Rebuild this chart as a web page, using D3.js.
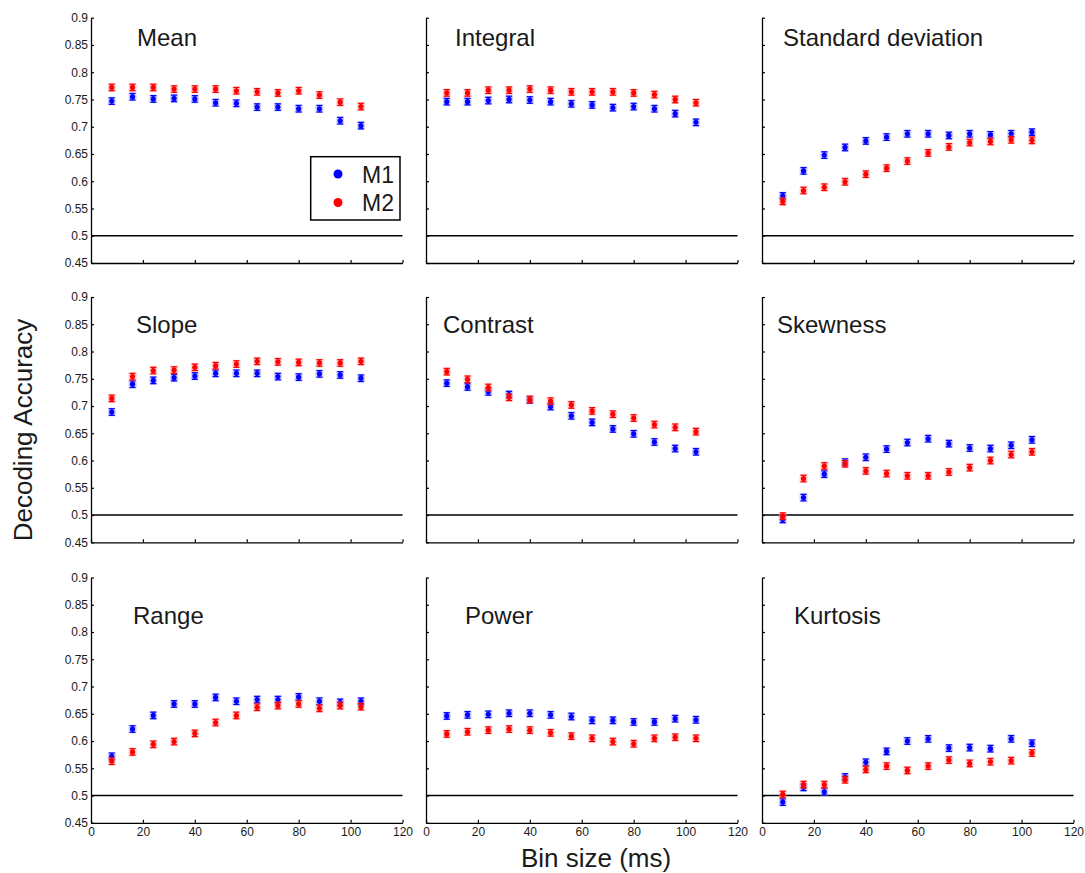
<!DOCTYPE html>
<html>
<head>
<meta charset="utf-8">
<script src="https://cdn.jsdelivr.net/npm/d3@7"></script>
<style>
  html, body { margin: 0; padding: 0; background: #fff; }
  svg { display: block; }
  text { font-family: "Liberation Sans", Arial, Helvetica, sans-serif; fill: #1a1a1a; }
</style>
</head>
<body>
<svg id="chart" width="1085" height="873"></svg>
<script>
// ---------------- data ----------------
const binSizes = [8, 16, 24, 32, 40, 48, 56, 64, 72, 80, 88, 96, 104];
const panelTitles = ["Mean", "Integral", "Standard deviation", "Slope", "Contrast", "Skewness", "Range", "Power", "Kurtosis"];
const seriesNames = ["M1", "M2"];
const yTicks = [0.45, 0.5, 0.55, 0.6, 0.65, 0.7, 0.75, 0.8, 0.85, 0.9];
const yTickLabels = ["0.45", "0.5", "0.55", "0.6", "0.65", "0.7", "0.75", "0.8", "0.85", "0.9"];
const xTicks = [0, 20, 40, 60, 80, 100, 120];
const xTickLabels = ["0", "20", "40", "60", "80", "100", "120"];
const chanceLevel = 0.5;
const errorHalf = 0.006;

const meanM1 = [0.747, 0.755, 0.751, 0.752, 0.751, 0.744, 0.743, 0.736, 0.736, 0.733, 0.733, 0.711, 0.702];
const meanM2 = [0.772, 0.772, 0.772, 0.769, 0.769, 0.769, 0.766, 0.764, 0.762, 0.766, 0.758, 0.745, 0.737];
const integralM1 = [0.746, 0.746, 0.748, 0.750, 0.749, 0.746, 0.742, 0.740, 0.735, 0.737, 0.733, 0.724, 0.708];
const integralM2 = [0.762, 0.762, 0.767, 0.767, 0.769, 0.767, 0.764, 0.764, 0.764, 0.762, 0.759, 0.750, 0.744];
const stdM1 = [0.573, 0.619, 0.648, 0.662, 0.674, 0.681, 0.687, 0.687, 0.684, 0.687, 0.685, 0.687, 0.690];
const stdM2 = [0.563, 0.583, 0.589, 0.599, 0.613, 0.624, 0.637, 0.652, 0.663, 0.671, 0.673, 0.676, 0.675];
const slopeM1 = [0.689, 0.740, 0.747, 0.752, 0.755, 0.760, 0.760, 0.760, 0.754, 0.753, 0.759, 0.757, 0.751];
const slopeM2 = [0.714, 0.754, 0.765, 0.766, 0.771, 0.774, 0.777, 0.782, 0.781, 0.780, 0.779, 0.779, 0.782];
const contrastM1 = [0.742, 0.735, 0.726, 0.721, 0.711, 0.699, 0.682, 0.670, 0.658, 0.649, 0.634, 0.622, 0.616];
const contrastM2 = [0.763, 0.749, 0.734, 0.716, 0.712, 0.709, 0.702, 0.691, 0.685, 0.678, 0.666, 0.661, 0.653];
const skewM1 = [0.492, 0.532, 0.575, 0.597, 0.606, 0.621, 0.633, 0.640, 0.631, 0.623, 0.622, 0.628, 0.638];
const skewM2 = [0.498, 0.567, 0.590, 0.594, 0.581, 0.576, 0.572, 0.572, 0.579, 0.587, 0.600, 0.611, 0.616];
const rangeM1 = [0.572, 0.622, 0.647, 0.668, 0.668, 0.680, 0.673, 0.676, 0.676, 0.681, 0.673, 0.671, 0.673];
const rangeM2 = [0.563, 0.580, 0.594, 0.599, 0.614, 0.634, 0.647, 0.662, 0.665, 0.668, 0.660, 0.665, 0.663];
const powerM1 = [0.646, 0.648, 0.649, 0.651, 0.651, 0.648, 0.645, 0.638, 0.638, 0.635, 0.635, 0.641, 0.639];
const powerM2 = [0.613, 0.617, 0.620, 0.622, 0.620, 0.615, 0.609, 0.605, 0.599, 0.595, 0.605, 0.607, 0.605];
const kurtM1 = [0.488, 0.515, 0.507, 0.534, 0.561, 0.581, 0.600, 0.604, 0.587, 0.588, 0.586, 0.604, 0.596];
const kurtM2 = [0.502, 0.520, 0.520, 0.529, 0.548, 0.554, 0.546, 0.554, 0.565, 0.559, 0.562, 0.564, 0.578];

const panelSeries = [
  [meanM1, meanM2], [integralM1, integralM2], [stdM1, stdM2],
  [slopeM1, slopeM2], [contrastM1, contrastM2], [skewM1, skewM2],
  [rangeM1, rangeM2], [powerM1, powerM2], [kurtM1, kurtM2]
];

// ---------------- layout ----------------
const colors = ["#0000ff", "#ff0000"];
const haloColors = ["#9a9aff", "#ff9a9a"];
const colLeft = [91, 426, 762];
const rowTop = [17.7, 297, 577.5];
const pw = 311.5, ph = 245.3;
const titleDx = [46, 29, 21, 45, 17, 15, 42, 39, 32];
const titleDy = [28.5, 28.5, 28.5, 36, 36, 36, 46.5, 46.5, 46.5];

const svg = d3.select("#chart");

const x = d3.scaleLinear().domain([0, 120]).range([0, pw]);
const y = d3.scaleLinear().domain([0.45, 0.9]).range([ph, 0]);

panelTitles.forEach((title, i) => {
  const r = Math.floor(i / 3), c = i % 3;
  const g = svg.append("g").attr("transform", `translate(${colLeft[c]},${rowTop[r]})`);

  // x axis
  const xAxis = d3.axisBottom(x).tickValues(xTicks).tickSizeInner(-3).tickSizeOuter(0)
    .tickFormat((d, k) => r === 2 ? xTickLabels[k] : "");
  const gx = g.append("g").attr("transform", `translate(0,${ph})`).call(xAxis);
  gx.select(".domain").attr("stroke", "#000").attr("stroke-width", 1.3);
  gx.selectAll(".tick line").attr("stroke", "#000").attr("stroke-width", 1.2);
  gx.selectAll(".tick text").attr("y", 5).attr("dy", "0.71em")
    .style("font-size", "12px").attr("fill", "#1a1a1a");

  // y axis
  const yAxis = d3.axisLeft(y).tickValues(yTicks).tickSizeInner(-3).tickSizeOuter(0)
    .tickFormat((d, k) => c === 0 ? yTickLabels[k] : "");
  const gy = g.append("g").call(yAxis);
  gy.select(".domain").attr("stroke", "#000").attr("stroke-width", 1.3);
  gy.selectAll(".tick line").attr("stroke", "#000").attr("stroke-width", 1.2);
  gy.selectAll(".tick text").attr("x", -3).style("font-size", "12px").attr("fill", "#1a1a1a");

  // chance line
  g.append("line")
    .attr("x1", x(0)).attr("x2", x(120))
    .attr("y1", y(chanceLevel)).attr("y2", y(chanceLevel))
    .attr("stroke", "#000").attr("stroke-width", 1.5);

  // title
  g.append("text").attr("x", titleDx[i]).attr("y", titleDy[i])
    .style("font-size", "24px").text(title);

  // series (M1 then M2)
  panelSeries[i].forEach((vals, s) => {
    const pts = vals.map((v, k) => ({ x: binSizes[k], y: v }));
    const sg = g.append("g");
    // halo
    sg.selectAll("rect.halo").data(pts).enter().append("rect")
      .attr("x", d => x(d.x) - 4).attr("width", 8)
      .attr("y", d => y(d.y + errorHalf) - 1)
      .attr("height", d => y(d.y - errorHalf) - y(d.y + errorHalf) + 2)
      .attr("fill", haloColors[s]).attr("opacity", 0.45);
    // vertical bar
    sg.selectAll("line.v").data(pts).enter().append("line")
      .attr("x1", d => x(d.x)).attr("x2", d => x(d.x))
      .attr("y1", d => y(d.y + errorHalf)).attr("y2", d => y(d.y - errorHalf))
      .attr("stroke", colors[s]).attr("stroke-width", 1.4);
    // caps
    [1, -1].forEach(sign => {
      sg.selectAll(null).data(pts).enter().append("line")
        .attr("x1", d => x(d.x) - 3).attr("x2", d => x(d.x) + 3)
        .attr("y1", d => y(d.y + sign * errorHalf)).attr("y2", d => y(d.y + sign * errorHalf))
        .attr("stroke", colors[s]).attr("stroke-width", 1.3);
    });
    // markers
    sg.selectAll("circle").data(pts).enter().append("circle")
      .attr("cx", d => x(d.x)).attr("cy", d => y(d.y)).attr("r", 2.6)
      .attr("fill", colors[s]);
  });

  // legend in first panel
  if (i === 0) {
    const lg = svg.append("g");
    lg.append("rect").attr("x", 310.7).attr("y", 156.7).attr("width", 89.3).attr("height", 63.3)
      .attr("fill", "#fff").attr("stroke", "#000").attr("stroke-width", 1.5);
    seriesNames.forEach((name, s) => {
      lg.append("circle").attr("cx", 338).attr("cy", 174 + s * 28.5).attr("r", 4.5).attr("fill", colors[s]);
      lg.append("text").attr("x", 362).attr("y", 182.5 + s * 28.5).style("font-size", "23px").text(name);
    });
  }
});

// axis labels
svg.append("text")
  .attr("transform", "translate(32,430) rotate(-90)")
  .attr("text-anchor", "middle").style("font-size", "26px").text("Decoding Accuracy");
svg.append("text")
  .attr("x", 596).attr("y", 867)
  .attr("text-anchor", "middle").style("font-size", "26px").text("Bin size (ms)");
</script>
</body>
</html>
